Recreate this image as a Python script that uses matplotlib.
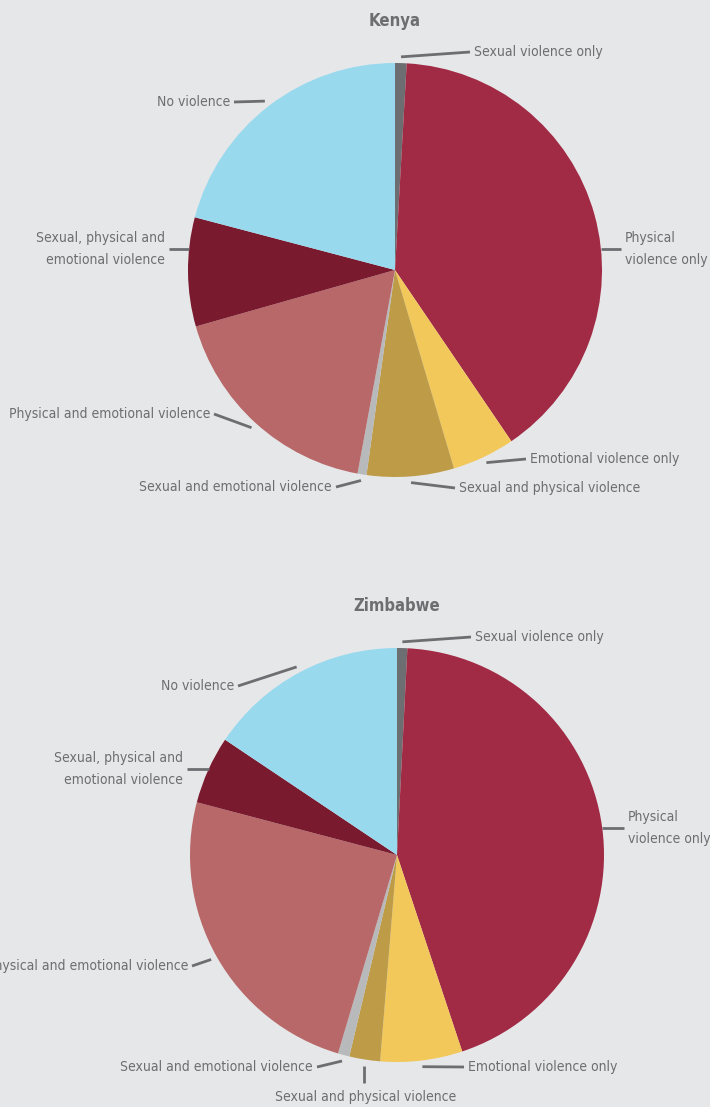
import numpy as np
import matplotlib.pyplot as plt

# categories in clockwise order from 12 o'clock
categories = ['Sexual violence only', 'Physical\nviolence only', 'Emotional violence only',
              'Sexual and physical violence', 'Sexual and emotional violence',
              'Physical and emotional violence', 'Sexual, physical and\nemotional violence',
              'No violence']
kenya = [0.9, 39.6, 4.9, 6.8, 0.7, 17.7, 8.5, 20.9]
zimbabwe = [0.8, 44.1, 6.4, 2.4, 0.9, 24.5, 5.3, 15.6]

colors = ['#6d6e71', '#a12a45', '#f2c85b', '#be9c47', '#b8b9bb',
          '#b86868', '#7a1a2e', '#99d9ee']
bg = '#e6e7e9'
txt = '#6d6e71'
W, H = 710, 1107

# label anchors (pixels, y from top), alignment, horizontal leader?
kenya_lab = [(474, 52, 'left', False), (625, 249, 'left', True), (530, 459, 'left', False),
             (459, 488, 'left', False), (332, 487, 'right', False), (210, 414, 'right', False),
             (165, 249, 'right', True), (230, 102, 'right', False)]
zim_lab = [(475, 637, 'left', False), (628, 828, 'left', True), (468, 1067, 'left', False),
           (366, 1097, 'center', False), (313, 1067, 'right', False), (188, 966, 'right', False),
           (183, 769, 'right', True), (234, 686, 'right', False)]

fig = plt.figure(figsize=(W / 100, H / 100), dpi=100, facecolor=bg)
ax = fig.add_axes([0, 0, 1, 1])
ax.set_facecolor(bg)


def draw(vals, cx, cy, r, title, labs):
    wedges, _ = ax.pie(vals, colors=colors, startangle=90, counterclock=False,
                       center=(cx, H - cy), radius=r, wedgeprops=dict(linewidth=0))
    ax.text(cx, H - cy + r + 42, title, ha='center', va='center', fontsize=12,
            fontweight='bold', color=txt, fontstretch='condensed')
    for w, lab, (lx, ly, ha, horiz) in zip(wedges, categories, labs):
        ey = H - ly
        if horiz:
            side = 1 if ha == 'left' else -1
            px = cx + side * np.sqrt(r ** 2 - (ly - cy) ** 2)
            py = ey
        else:
            ang = np.deg2rad((w.theta1 + w.theta2) / 2)
            px = cx + r * 1.03 * np.cos(ang)
            py = H - cy + r * 1.03 * np.sin(ang)
        if ha == 'left':
            ex = lx - 4
        elif ha == 'right':
            ex = lx + 4
        else:
            ex = px
            ey = ey + 14
        ax.plot([px, ex], [py, ey], color=txt, lw=2, solid_capstyle='butt')
        ax.text(lx, H - ly, lab, ha=ha, va='center', fontsize=10, color=txt,
                family='DejaVu Sans', fontstretch='condensed', linespacing=1.75,
                multialignment='left' if ha == 'left' else 'right')


draw(kenya, 395, 270, 207, 'Kenya', kenya_lab)
draw(zimbabwe, 397, 855, 207, 'Zimbabwe', zim_lab)

ax.set_xlim(0, W)
ax.set_ylim(0, H)
ax.set_aspect('equal')
ax.axis('off')

fig.savefig('out.png', dpi=100, facecolor=bg)
